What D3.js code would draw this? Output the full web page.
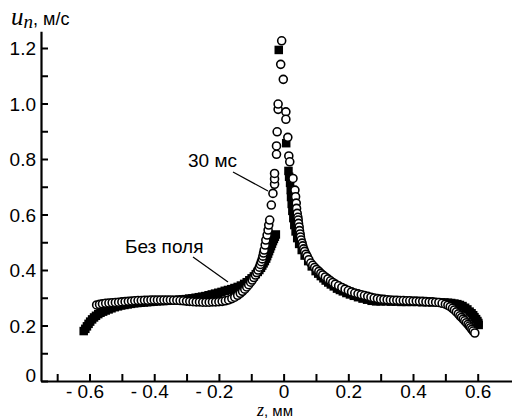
<!DOCTYPE html>
<html><head><meta charset="utf-8">
<script src="https://cdn.jsdelivr.net/npm/d3@7"></script>
<style>
html,body{margin:0;padding:0;background:#fff;}
svg text{font-family:"Liberation Sans",Arial,sans-serif;fill:#000;}
</style></head>
<body>
<svg id="chart" width="512" height="419"></svg>
<script>
// ---- Data (z in mm, u_n in m/s) ----
const xTickValues = [-0.7,-0.6,-0.5,-0.4,-0.3,-0.2,-0.1,0,0.1,0.2,0.3,0.4,0.5,0.6];
const xTickLabels = {"-0.6":"- 0.6","-0.4":"- 0.4","-0.2":"- 0.2","0":"0","0.2":"0.2","0.4":"0.4","0.6":"0.6"};
const yTickValues = [0,0.1,0.2,0.3,0.4,0.5,0.6,0.7,0.8,0.9,1.0,1.1,1.2];
const yTickLabels = {"0":"0","0.2":"0.2","0.4":"0.4","0.6":"0.6","0.8":"0.8","1":"1.0","1.2":"1.2"};
const seriesNames = ["30 мс","Без поля"];

// "Без поля" (filled squares)
const noFieldLeft = [
[-0.618,0.180],[-0.613,0.188],[-0.608,0.197],[-0.603,0.206],[-0.598,0.214],[-0.592,0.222],[-0.586,0.229],
[-0.580,0.235],[-0.573,0.241],[-0.566,0.246],[-0.558,0.250],[-0.550,0.254],[-0.541,0.258],[-0.532,0.262],
[-0.522,0.266],[-0.512,0.269],[-0.502,0.272],[-0.492,0.274],[-0.482,0.276],[-0.472,0.278],[-0.462,0.280],
[-0.452,0.281],[-0.442,0.282],[-0.432,0.283],[-0.422,0.284],[-0.412,0.285],[-0.402,0.286],[-0.392,0.287],
[-0.382,0.288],[-0.372,0.288],[-0.362,0.289],[-0.352,0.290],[-0.342,0.291],[-0.332,0.292],[-0.322,0.293],
[-0.312,0.294],[-0.302,0.295],[-0.292,0.297],[-0.282,0.298],[-0.272,0.300],[-0.262,0.302],[-0.252,0.304],
[-0.242,0.306],[-0.232,0.309],[-0.222,0.312],[-0.212,0.315],[-0.202,0.318],[-0.192,0.321],[-0.182,0.325],
[-0.172,0.328],[-0.162,0.331],[-0.152,0.335],[-0.142,0.339],[-0.132,0.344],[-0.122,0.350],[-0.114,0.356],
[-0.106,0.363],[-0.099,0.370],[-0.092,0.377],[-0.086,0.385],[-0.080,0.393],[-0.075,0.400],[-0.070,0.408],
[-0.066,0.416],[-0.062,0.424],[-0.058,0.432],[-0.054,0.441],[-0.051,0.450],[-0.048,0.459],[-0.045,0.468],
[-0.042,0.477],[-0.039,0.486],[-0.036,0.495],[-0.033,0.504],[-0.030,0.512],[-0.027,0.520],[-0.024,0.528]
];
const noFieldCenter = [[-0.015,1.193],[0.008,0.857],[0.015,0.757],[0.017,0.736]];
const noFieldRight = [
[0.020,0.714],[0.022,0.688],[0.023,0.663],[0.025,0.638],[0.027,0.613],[0.030,0.587],[0.033,0.562],
[0.037,0.539],[0.042,0.515],[0.048,0.494],[0.056,0.472],[0.065,0.452],[0.076,0.432],[0.087,0.413],
[0.099,0.396],[0.107,0.387],[0.115,0.378],[0.123,0.370],[0.130,0.362],[0.138,0.355],[0.146,0.348],
[0.155,0.341],[0.165,0.333],[0.174,0.328],[0.183,0.323],[0.194,0.317],[0.205,0.312],[0.217,0.307],
[0.230,0.302],[0.244,0.297],[0.258,0.293],[0.272,0.289],[0.286,0.287],[0.300,0.287],[0.316,0.287],
[0.332,0.286],[0.348,0.286],[0.364,0.285],[0.380,0.285],[0.396,0.285],[0.412,0.285],[0.428,0.284],
[0.444,0.284],[0.460,0.284],[0.474,0.284],[0.486,0.283],[0.497,0.283],[0.508,0.282],[0.518,0.281],
[0.528,0.279],[0.537,0.277],[0.545,0.274],[0.553,0.270],[0.561,0.264],[0.568,0.258],[0.575,0.250],
[0.581,0.244],[0.586,0.237],[0.590,0.230],[0.595,0.223],[0.599,0.216],[0.602,0.209],[0.603,0.202]
];

// "30 мс" (open circles)
const field30Left = [
[-0.578,0.274],[-0.569,0.276],[-0.560,0.278],[-0.550,0.280],[-0.540,0.281],[-0.530,0.282],[-0.520,0.283],
[-0.510,0.284],[-0.500,0.285],[-0.490,0.286],[-0.480,0.287],[-0.470,0.288],[-0.460,0.289],[-0.450,0.290],
[-0.440,0.290],[-0.430,0.291],[-0.420,0.291],[-0.410,0.292],[-0.400,0.292],[-0.390,0.292],[-0.380,0.292],
[-0.370,0.292],[-0.360,0.292],[-0.350,0.292],[-0.340,0.291],[-0.330,0.291],[-0.320,0.290],[-0.310,0.289],
[-0.300,0.288],[-0.290,0.287],[-0.280,0.286],[-0.270,0.285],[-0.260,0.285],[-0.250,0.284],[-0.240,0.284],
[-0.230,0.284],[-0.220,0.285],[-0.210,0.285],[-0.200,0.286],[-0.190,0.287],[-0.180,0.289],[-0.170,0.292],
[-0.160,0.297],[-0.151,0.302],[-0.142,0.309],[-0.134,0.316],[-0.127,0.323],[-0.120,0.331],[-0.114,0.339],
[-0.108,0.347],[-0.102,0.356],[-0.097,0.364],[-0.092,0.373],[-0.087,0.382],[-0.083,0.391],[-0.079,0.400],
[-0.075,0.410],[-0.072,0.420],[-0.069,0.430],[-0.066,0.440],[-0.064,0.450],[-0.062,0.461],[-0.060,0.472],
[-0.057,0.490],[-0.055,0.508],[-0.051,0.526],[-0.048,0.544],[-0.046,0.562],[-0.043,0.580],[-0.038,0.634],
[-0.033,0.676],[-0.028,0.709],[-0.028,0.728],[-0.028,0.748]
];
const field30Center = [
[-0.022,0.817],[-0.022,0.847],[-0.020,0.898],[-0.017,0.979],[-0.017,0.998],[-0.009,1.141],[-0.006,1.226],
[-0.001,1.087],[0.007,0.970],[0.007,0.943],[0.013,0.878],[0.016,0.811],[0.019,0.790],[0.029,0.730]
];
const field30Right = [
[0.035,0.688],[0.037,0.664],[0.039,0.641],[0.040,0.622],[0.042,0.604],[0.044,0.590],[0.045,0.580],
[0.046,0.568],[0.048,0.555],[0.049,0.542],[0.051,0.530],[0.052,0.519],[0.054,0.508],[0.057,0.497],
[0.059,0.487],[0.062,0.476],[0.065,0.467],[0.069,0.457],[0.073,0.449],[0.078,0.437],[0.084,0.425],
[0.090,0.417],[0.096,0.409],[0.102,0.402],[0.109,0.395],[0.115,0.388],[0.121,0.382],[0.129,0.375],
[0.137,0.368],[0.145,0.361],[0.152,0.355],[0.160,0.349],[0.170,0.343],[0.180,0.337],[0.190,0.331],
[0.200,0.326],[0.210,0.321],[0.220,0.317],[0.230,0.314],[0.240,0.311],[0.250,0.308],[0.260,0.305],
[0.270,0.302],[0.280,0.299],[0.290,0.297],[0.300,0.295],[0.310,0.294],[0.320,0.293],[0.330,0.292],
[0.340,0.291],[0.350,0.291],[0.360,0.290],[0.370,0.290],[0.380,0.289],[0.390,0.289],[0.400,0.288],
[0.410,0.288],[0.420,0.287],[0.430,0.287],[0.440,0.286],[0.450,0.285],[0.460,0.285],[0.470,0.284],
[0.480,0.283],[0.490,0.280],[0.500,0.277],[0.508,0.273],[0.515,0.268],[0.522,0.262],[0.528,0.256],
[0.534,0.249],[0.540,0.242],[0.545,0.235],[0.550,0.229],[0.555,0.223],[0.560,0.217],[0.565,0.210],
[0.570,0.204],[0.574,0.198],[0.578,0.192],[0.582,0.186],[0.586,0.180],[0.591,0.173]
];

const noField = noFieldLeft.concat(noFieldCenter, noFieldRight);
const field30 = field30Left.concat(field30Center, field30Right);

// ---- Chart ----
const svg = d3.select("#chart");
const x = d3.scaleLinear().domain([-0.75, 0.706]).range([41, 512]);
const y = d3.scaleLinear().domain([0, 1.26]).range([381, 31.35]);

const key = v => String(+v.toFixed(1));

// y axis
const yAxis = d3.axisLeft(y).tickValues(yTickValues).tickSizeInner(-7).tickSizeOuter(0).tickPadding(5)
  .tickFormat(d => yTickLabels[key(d)] || "");
const gy = svg.append("g").attr("transform", `translate(${x(-0.75)},0)`).call(yAxis);
gy.select(".domain").attr("stroke-width", 2.2).attr("stroke", "#000");
gy.selectAll(".tick line").attr("stroke-width", 2).attr("stroke", "#000");
gy.selectAll(".tick text").attr("font-size", 19).attr("font-family", "Liberation Sans, Arial, sans-serif")
  .attr("dy", (d) => d === 0 ? "0.05em" : "0.35em");

// x axis
const xAxis = d3.axisBottom(x).tickValues(xTickValues).tickSizeInner(-7).tickSizeOuter(0).tickPadding(4)
  .tickFormat(d => xTickLabels[key(d)] || "");
const gx = svg.append("g").attr("transform", `translate(0,${y(0)})`).call(xAxis);
gx.select(".domain").attr("stroke-width", 2.2).attr("stroke", "#000");
gx.selectAll(".tick line").attr("stroke-width", 2).attr("stroke", "#000");
gx.selectAll(".tick text").attr("font-size", 19).attr("font-family", "Liberation Sans, Arial, sans-serif")
  .attr("text-anchor", d => d < 0 ? "end" : "middle")
  .attr("dx", d => d < 0 ? 14 : 0);

// squares (Без поля)
const sq = 8.5;
svg.append("g").selectAll("rect").data(noField).join("rect")
  .attr("x", d => x(d[0]) - sq/2).attr("y", d => y(d[1]) - sq/2)
  .attr("width", sq).attr("height", sq).attr("fill", "#000");

// circles (30 мс)
svg.append("g").selectAll("circle").data(field30).join("circle")
  .attr("cx", d => x(d[0])).attr("cy", d => y(d[1])).attr("r", 4)
  .attr("fill", "#fff").attr("stroke", "#000").attr("stroke-width", 1.6);

// annotations
svg.append("text").attr("x", 188).attr("y", 167).attr("font-size", 19).text(seriesNames[0]);
svg.append("line").attr("x1", 233).attr("y1", 172).attr("x2", 268).attr("y2", 191)
  .attr("stroke", "#000").attr("stroke-width", 1.2);
svg.append("text").attr("x", 125).attr("y", 253).attr("font-size", 19).text(seriesNames[1]);
svg.append("line").attr("x1", 193).attr("y1", 257).attr("x2", 228).attr("y2", 282)
  .attr("stroke", "#000").attr("stroke-width", 1.2);

// axis titles
const yt = svg.append("text").attr("x", 11).attr("y", 25);
yt.append("tspan").attr("font-family", "Liberation Serif, serif").attr("font-style", "italic").attr("font-size", 25).text("u");
yt.append("tspan").attr("font-family", "Liberation Serif, serif").attr("font-style", "italic").attr("font-size", 19).attr("dy", 3).text("n");
yt.append("tspan").attr("font-size", 18).attr("dy", -3).text(", м/с");

const xt = svg.append("text").attr("x", 257).attr("y", 416);
xt.append("tspan").attr("font-family", "Liberation Serif, serif").attr("font-style", "italic").attr("font-size", 18).text("z");
xt.append("tspan").attr("font-size", 15).text(", мм");
</script>
</body></html>
